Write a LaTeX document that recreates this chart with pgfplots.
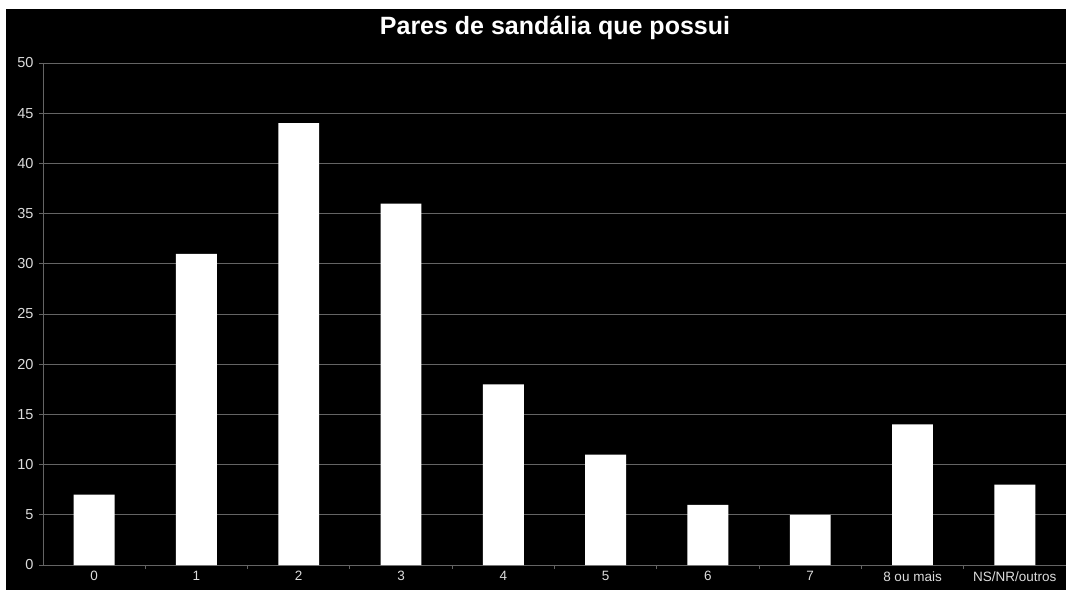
\documentclass[border=0pt]{standalone}
\usepackage{pgfplots}
\pgfplotsset{compat=1.18}
\usepackage{fontspec}
\setmainfont{Liberation Sans}
\definecolor{gridc}{RGB}{100,100,100}
\definecolor{tickc}{RGB}{220,220,220}
\begin{document}
\begin{tikzpicture}[x=1pt,y=1pt]
\useasboundingbox (0,0) rectangle (1066,590);
\fill[white] (0,0) rectangle (1066,590);
\fill[black] (6,0) rectangle (1066,581);
\node[white,font=\fontsize{25}{28}\selectfont\bfseries] at (555,562) {Pares de sandália que possui};
\begin{axis}[
  at={(43pt,25pt)}, anchor=south west,
  scale only axis, width=1023pt, height=502pt,
  xmin=-0.5, xmax=9.5, ymin=0, ymax=50,
  ytick={0,5,...,50},
  xtick={0,...,9},
  xticklabels={0,1,2,3,4,5,6,7,8 ou mais,NS/NR/outros},
  minor xtick={0.5,1.5,...,8.5},
  major x tick style={draw=none},
  minor x tick style={draw=gridc, line width=0.8pt},
  xtick pos=bottom, ytick pos=left,
  tick align=outside, major tick length=4pt, minor tick length=4pt,
  y tick style={draw=gridc, line width=0.8pt},
  ymajorgrids, grid style={gridc, line width=0.8pt},
  axis x line*=bottom, axis y line*=left,
  axis line style={gridc, line width=0.8pt, -},
  tick label style={tickc, font=\fontsize{13.5}{15}\selectfont},
  /pgf/number format/assume math mode=true,
  xticklabel style={yshift=1pt},
  yticklabel style={xshift=-2pt, font=\fontsize{14.5}{16}\selectfont},
  clip=false,
]
\addplot[ybar, bar width=0.4, fill=white, draw=none] coordinates {
(0,7) (1,31) (2,44) (3,36) (4,18) (5,11) (6,6) (7,5) (8,14) (9,8)};
\end{axis}
\end{tikzpicture}
\end{document}
